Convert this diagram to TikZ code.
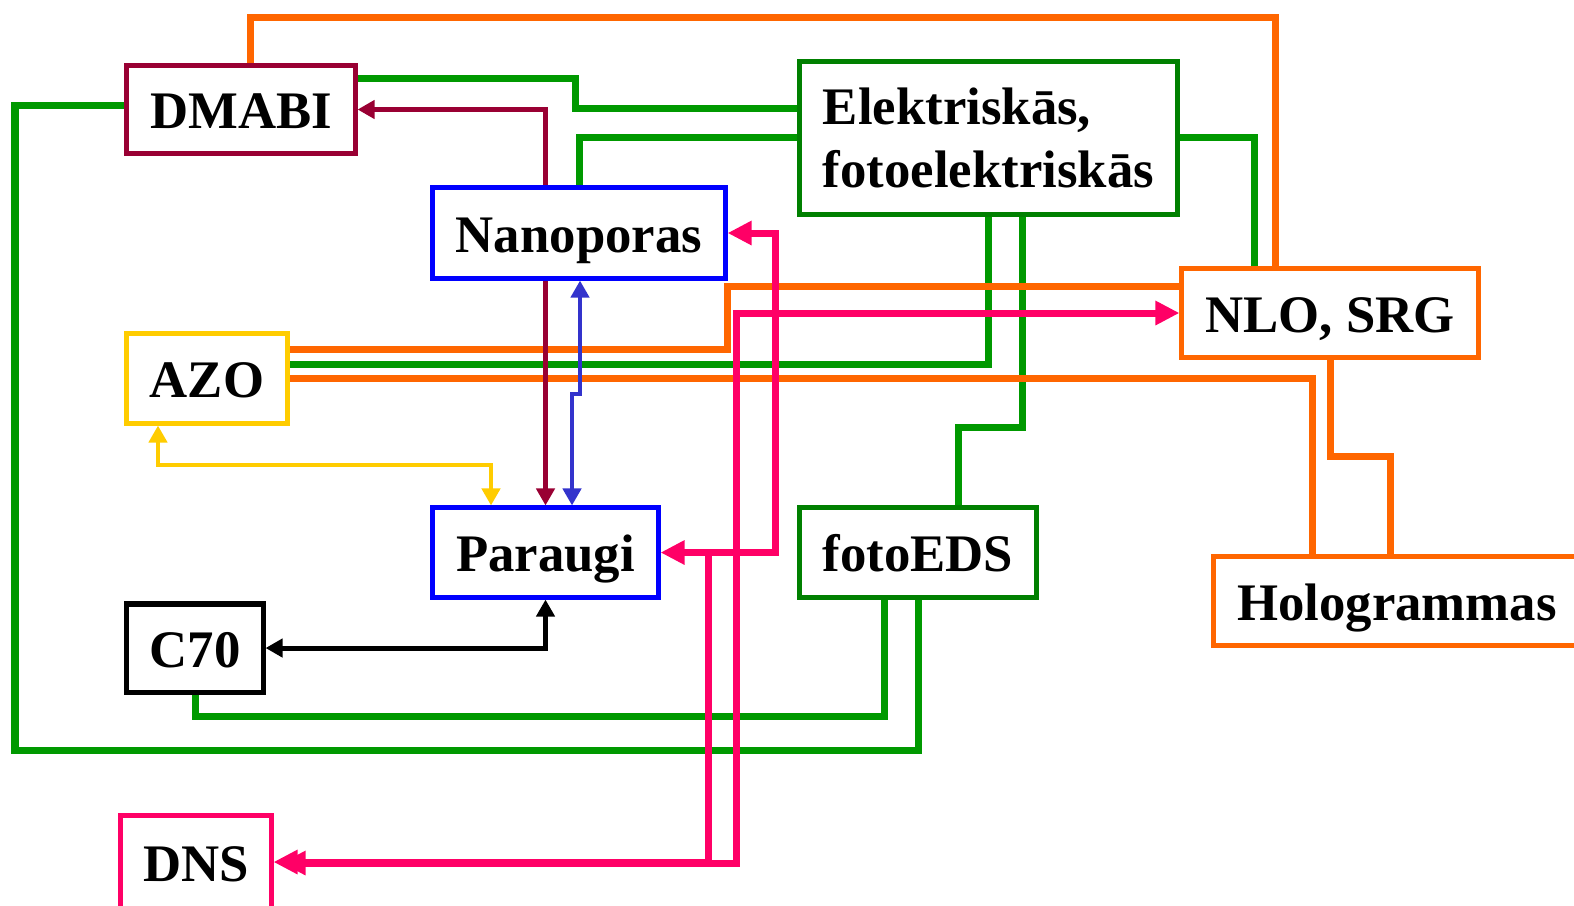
\documentclass[tikz,border=0pt]{standalone}
\usepackage{fontspec}
\setmainfont{Liberation Serif}
\usetikzlibrary{arrows.meta,backgrounds}

\definecolor{dmabired}{RGB}{153,0,51}
\definecolor{linegreen}{RGB}{0,153,0}
\definecolor{boxgreen}{RGB}{0,128,0}
\definecolor{nanoblue}{RGB}{0,0,255}
\definecolor{arrowblue}{RGB}{51,51,204}
\definecolor{azoyellow}{RGB}{255,204,0}
\definecolor{nloorange}{RGB}{255,102,0}
\definecolor{dnspink}{RGB}{255,0,102}

\tikzset{
  box/.style={draw, line width=0.05cm, fill=white, inner sep=0pt, minimum height=0.88cm,
    font=\fontsize{15}{17.9}\selectfont\bfseries, text height=0.42cm, text depth=0.04cm},
  greenline/.style={line width=0.07cm, linegreen},
  orangeline/.style={line width=0.07cm, nloorange},
  thinline/.style={line width=0.045cm},
  pinkline/.style={line width=0.07cm, dnspink, >={Triangle[length=0.24cm,width=0.23cm]}}
}

\begin{document}
\begin{tikzpicture}[x=0.01cm, y=-0.01cm, >={Triangle[length=0.17cm,width=0.18cm]}]
				\useasboundingbox (0,0) rectangle (1574,905);
				
				\node[box, draw=dmabired, minimum width=2.28cm, minimum height=0.87cm] (dmabi) at (241,109.5) {DMABI};
				\node[box, draw=boxgreen, minimum width=3.77cm, minimum height=1.52cm, align=left, text height={}, text depth={}] (elek) at (988.5,138) {Elektriskās,\\fotoelektriskās};
				\node[box, draw=nanoblue, minimum width=2.92cm, minimum height=0.90cm] (nano) at (579,233) {Nanoporas};
				\node[box, draw=azoyellow, minimum width=1.60cm, minimum height=0.89cm] (azo) at (207,378.5) {AZO};
				\node[box, draw=nloorange, minimum width=2.96cm] (nlo) at (1330,313) {NLO, SRG};
				\node[box, draw=nanoblue, minimum width=2.25cm, minimum height=0.89cm] (paraugi) at (545.5,552.5) {Paraugi};
				\node[box, draw=boxgreen, minimum width=2.36cm, minimum height=0.89cm] (foto) at (918,552.5) {fotoEDS};
				\node[box, draw=nloorange, minimum width=3.66cm] (holo) at (1397,601) {Hologrammas};
				\node[box, draw=black, minimum width=1.36cm] (c70) at (195,648) {C70};
				\node[box, draw=dnspink, minimum width=1.50cm, minimum height=0.94cm] (dns) at (196,862) {DNS};
				
				\begin{scope}[on background layer]
				\draw[greenline] (dmabi.east |- 0,78) -| (575,108) -- (elek.west |- 0,108);
				\draw[greenline] (dmabi.west |- 0,105) -| (15,750) -| (foto.south);
				\draw[greenline] (nano.north) |- (elek.west |- 0,137);
				\draw[greenline] (elek.east |- 0,137) -| (nlo.north -| 1254,0);
				\draw[greenline] (elek.south) |- (azo.east |- 0,364);
				\draw[greenline] (elek.south -| 1022,0) -- (1022,427) -| (foto.north -| 958,0);
				\draw[greenline] (c70.south) |- (884,716) -- (foto.south -| 884,0);
				
				\draw[orangeline] (dmabi.north -| 250,0) |- (1275,17) -- (nlo.north -| 1275,0);
				\draw[orangeline] (nlo.west |- 0,286) -| (727,349) -- (azo.east |- 0,349);
				\draw[orangeline] (azo.east) -| (holo.north -| 1312,0);
				\draw[orangeline] (nlo.south) |- (1390,456) -- (holo.north -| 1390,0);
				
				\draw[thinline, dmabired, <->] (dmabi.east) -| (paraugi.north);
				\draw[thinline, arrowblue, <->] (nano.south -| 580,0) -- (580,394) -- (572,394) -- (paraugi.north -| 572,0);
				\draw[thinline, azoyellow, <->] (azo.south -| 158,0) |- (491,465) -- (paraugi.north -| 491,0);
				\draw[line width=0.05cm, black, <->] (c70.east) -| (paraugi.south);
				
				\draw[pinkline, <->] (nano.east) -| (paraugi.east -| 775,0) -- (paraugi.east);
				\draw[pinkline, ->] (paraugi.east -| 708,0) |- (dns.east);
				\draw[pinkline, <->, shorten >=0.08cm] (nlo.west) -| (736,863) -- (dns.east |- 0,863);
				\end{scope}
			\end{tikzpicture}
\end{document}
